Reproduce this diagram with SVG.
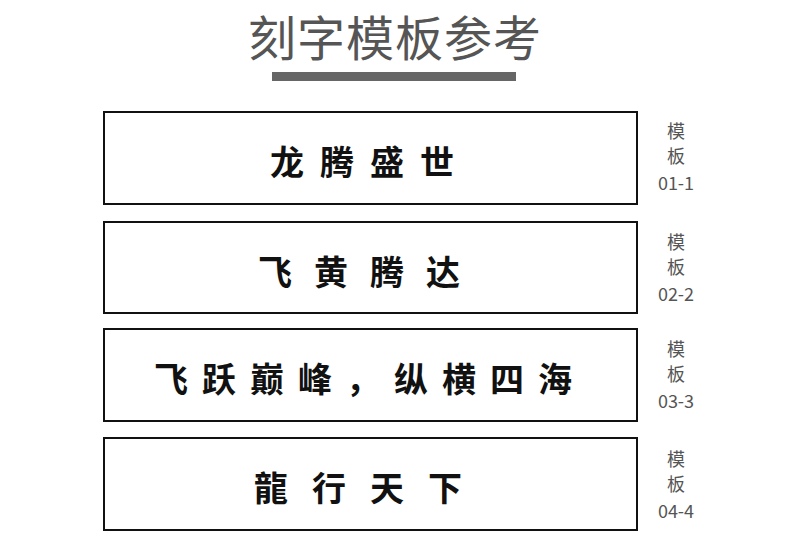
<svg xmlns="http://www.w3.org/2000/svg" width="790" height="557" viewBox="0 0 790 557">
<style>
.box{fill:#fff;stroke:#111;stroke-width:2}
.t{font-family:"Noto Sans CJK SC",serif;font-weight:bold;font-size:34px;fill:#111;text-anchor:middle;dominant-baseline:central}
.s{font-family:"Noto Sans CJK SC","Liberation Sans",sans-serif;font-size:18px;fill:#555;text-anchor:middle}
</style>
<rect width="790" height="557" fill="#fff"/>
<text x="395" y="56" font-family="Noto Sans CJK SC,sans-serif" font-size="48" fill="#555" text-anchor="middle" letter-spacing="1">刻字模板参考</text>
<rect x="272" y="72" width="244" height="9" fill="#666"/>
<g id="n1"><rect class="box" x="104" y="112" width="533" height="92"/><text class="t" x="370" y="160" letter-spacing="16">龙腾盛世</text>
<text class="s" x="676" y="138">模</text><text class="s" x="676" y="163">板</text><text class="s" x="676" y="190">01-1</text></g>
<g id="n2"><rect class="box" x="104" y="222" width="533" height="91"/><text class="t" x="370" y="270" letter-spacing="22">飞黄腾达</text>
<text class="s" x="676" y="249">模</text><text class="s" x="676" y="274">板</text><text class="s" x="676" y="301">02-2</text></g>
<g id="n3"><rect class="box" x="104" y="329" width="533" height="92"/><text class="t" x="370" y="377" letter-spacing="14">飞跃巅峰，纵横四海</text>
<text class="s" x="676" y="356">模</text><text class="s" x="676" y="381">板</text><text class="s" x="676" y="408">03-3</text></g>
<g id="n4"><rect class="box" x="104" y="438" width="533" height="92"/><text class="t" x="370" y="486" letter-spacing="24">龍行天下</text>
<text class="s" x="676" y="466">模</text><text class="s" x="676" y="491">板</text><text class="s" x="676" y="518">04-4</text></g>
<g id="connectors"/>
</svg>
